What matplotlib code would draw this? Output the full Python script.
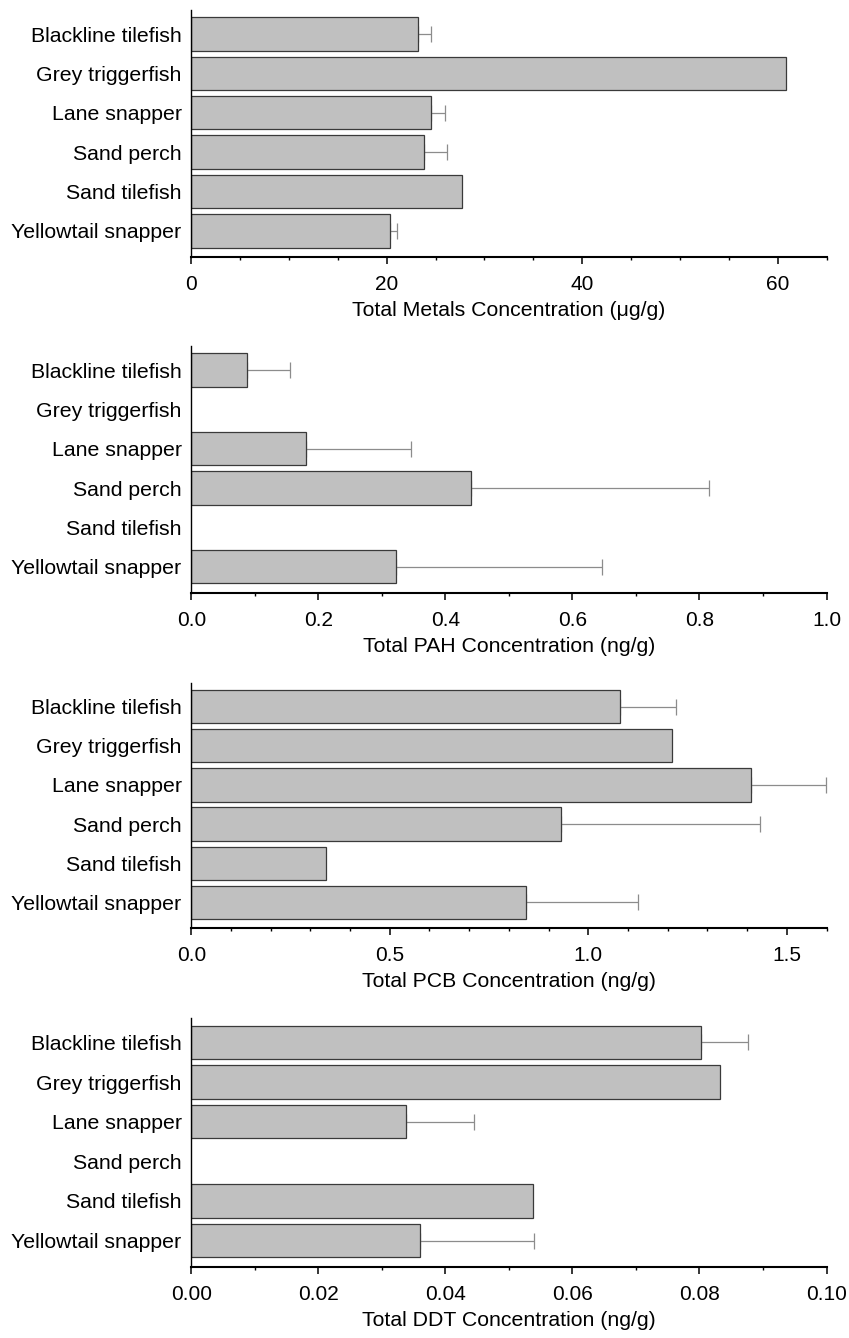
import numpy as np
import matplotlib
matplotlib.use("Agg")
import matplotlib.pyplot as plt
from matplotlib.ticker import MultipleLocator

plt.rcParams['font.family'] = ['Liberation Sans', 'DejaVu Sans']

species = ['Blackline tilefish', 'Grey triggerfish', 'Lane snapper',
           'Sand perch', 'Sand tilefish', 'Yellowtail snapper']

# means and (upper) standard errors, nan = no data / no error bar
metals = [23.2, 60.85, 24.5, 23.8, 27.7, 20.3]
metals_err = [1.3, np.nan, 1.43, 2.39, np.nan, 0.78]

pah = [0.087, np.nan, 0.181, 0.441, np.nan, 0.323]
pah_err = [0.069, np.nan, 0.165, 0.374, np.nan, 0.323]

pcb = [1.079, 1.211, 1.409, 0.931, 0.339, 0.843]
pcb_err = [0.143, np.nan, 0.189, 0.502, np.nan, 0.281]

ddt = [0.0802, 0.0832, 0.0338, np.nan, 0.0538, 0.0360]
ddt_err = [0.0074, np.nan, 0.0107, np.nan, np.nan, 0.0180]

xlabels = ['Total Metals Concentration (\u03bcg/g)',
           'Total PAH Concentration (ng/g)',
           'Total PCB Concentration (ng/g)',
           'Total DDT Concentration (ng/g)']

# axes boxes in figure fractions (left, bottom, width, height)
boxes = [[0.2253, 0.8081, 0.7482, 0.1844],
         [0.2253, 0.5570, 0.7482, 0.1844],
         [0.2253, 0.3062, 0.7482, 0.1836],
         [0.2253, 0.0533, 0.7482, 0.1857]]

panels = [(metals, metals_err, 65, 20, 5, '%d'),
          (pah, pah_err, 1.0, 0.2, 0.1, '%.1f'),
          (pcb, pcb_err, 1.6, 0.5, 0.1, '%.1f'),
          (ddt, ddt_err, 0.1, 0.02, 0.01, '%.2f')]

fig = plt.figure(figsize=(8.49, 13.38), dpi=100)

for box, (vals, errs, xmax, major, minor, fmt), xl in zip(boxes, panels, xlabels):
    ax = fig.add_axes(box)
    y = np.arange(len(species))
    vals = np.array(vals, dtype=float)
    errs = np.array(errs, dtype=float)
    ax.barh(y, vals, height=0.85, color='#c0c0c0', edgecolor='#3a3a3a',
            linewidth=0.9, zorder=2)
    ok = ~np.isnan(errs)
    ax.errorbar(vals[ok], y[ok], xerr=[np.zeros(ok.sum()), errs[ok]],
                fmt='none', ecolor='#8c8c8c', elinewidth=0.9, capsize=6,
                capthick=0.9, zorder=1)
    ax.set_xlim(0, xmax)
    ax.set_ylim(5.66, -0.61)
    ax.set_yticks(y)
    ax.set_yticklabels(species, fontsize=15.3)
    ax.tick_params(axis='y', length=0, pad=7)
    ax.xaxis.set_major_locator(MultipleLocator(major))
    ax.xaxis.set_minor_locator(MultipleLocator(minor))
    ax.xaxis.set_major_formatter(matplotlib.ticker.FormatStrFormatter(fmt))
    ax.tick_params(axis='x', which='major', length=5, width=1.1,
                   labelsize=15, pad=8)
    ax.tick_params(axis='x', which='minor', length=2.5, width=1.0)
    ax.spines['top'].set_visible(False)
    ax.spines['right'].set_visible(False)
    ax.spines['left'].set_linewidth(1.0)
    ax.spines['bottom'].set_linewidth(1.5)
    ax.set_xlabel(xl, fontsize=15.3, labelpad=5)

plt.savefig('out.png', dpi=100)
